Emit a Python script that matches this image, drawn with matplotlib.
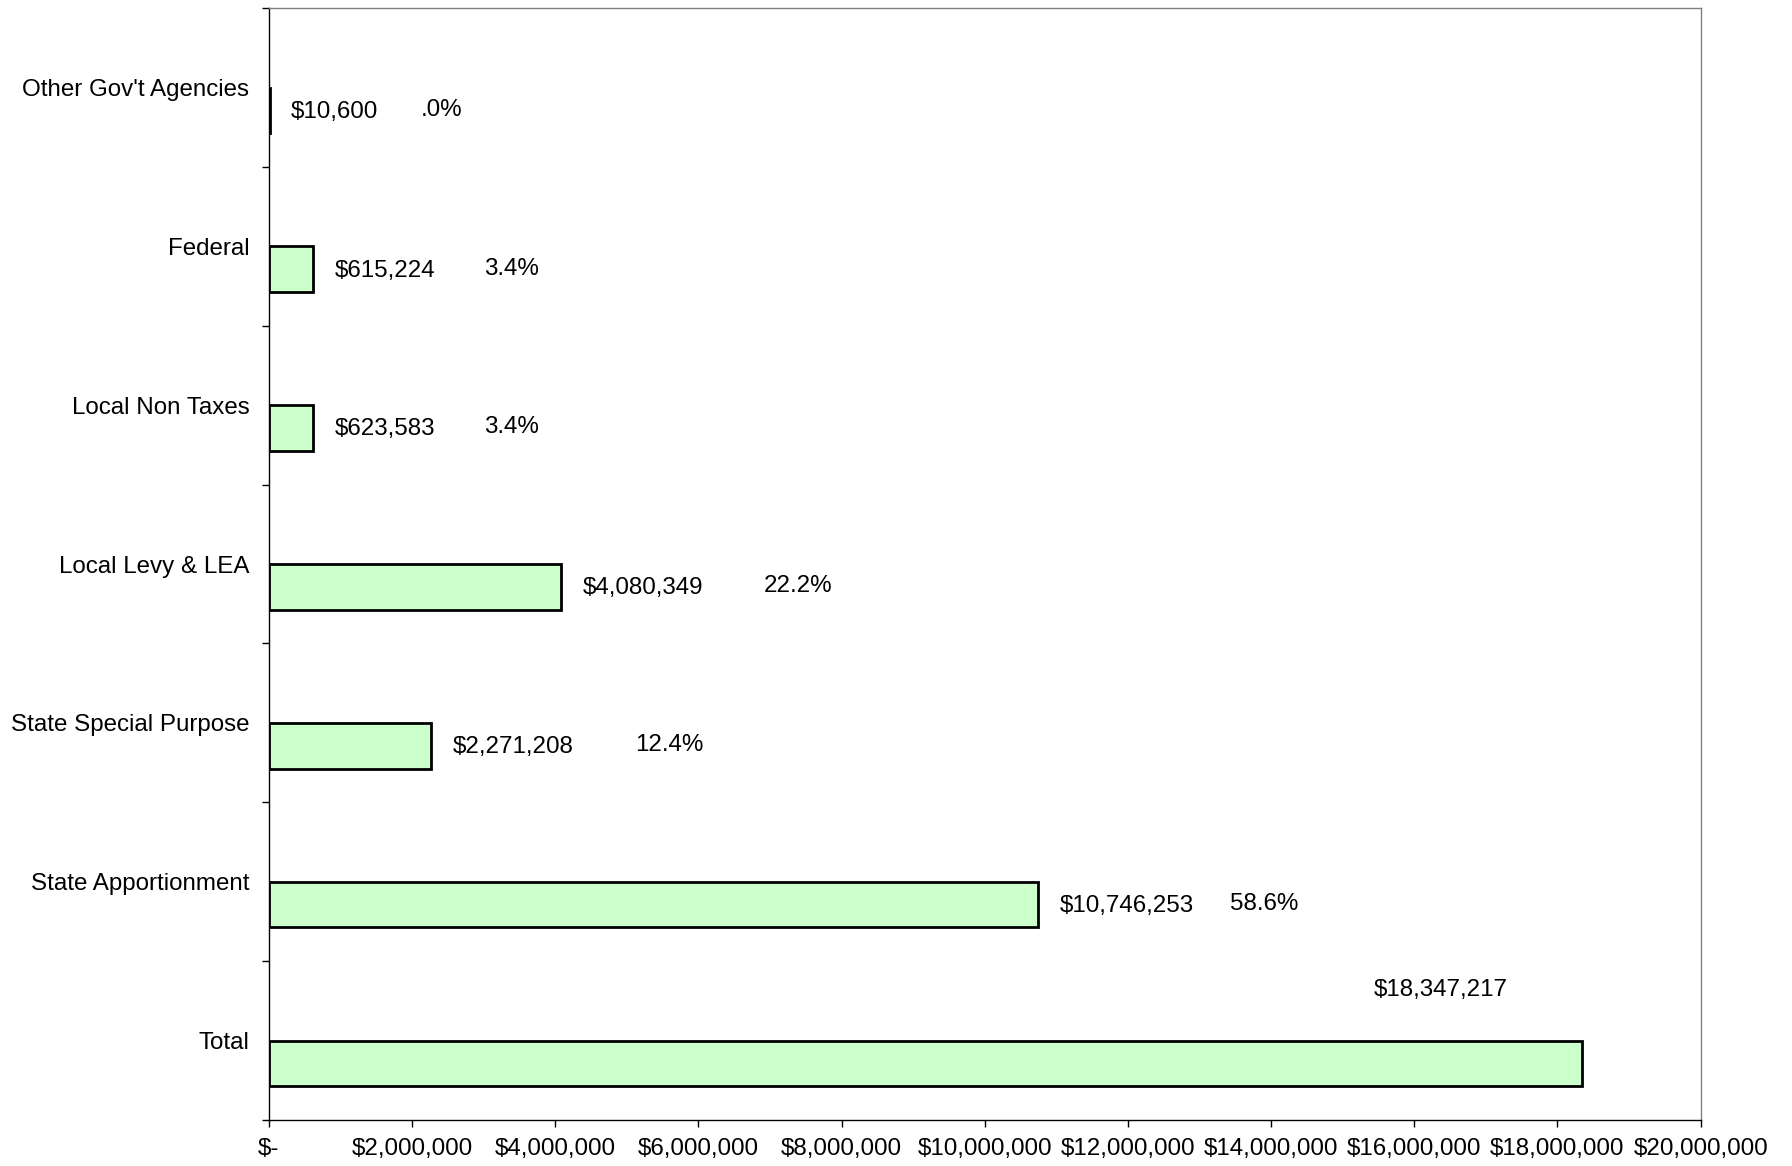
import matplotlib
matplotlib.use("Agg")
import matplotlib.pyplot as plt
import numpy as np

plt.rcParams['font.family'] = ['Liberation Sans', 'DejaVu Sans']

# dados (de baixo para cima)
categorias = ["Total", "State Apportionment", "State Special Purpose",
              "Local Levy & LEA", "Local Non Taxes", "Federal",
              "Other Gov't Agencies"]
valores = [18347217, 10746253, 2271208, 4080349, 623583, 615224, 10600]
percentuais = ["", "58.6%", "12.4%", "22.2%", "3.4%", "3.4%", ".0%"]

ticks_x = [0, 2000000, 4000000, 6000000, 8000000, 10000000,
           12000000, 14000000, 16000000, 18000000, 20000000]

# deslocamento (pt) do rotulo de percentual a partir do fim da barra
desloc_pct = [0, 138, 147, 146, 123, 123, 109]

fig = plt.figure(figsize=(17.92, 11.66), dpi=100)
ax = fig.add_axes([0.150, 0.0395, 0.799, 0.9535])

y = np.arange(len(categorias))
altura = 0.288
ax.barh(y - altura / 2, valores, height=altura, color="#CCFFCC",
        edgecolor="black", linewidth=2.0, zorder=3)

fs = 17.4
for i, v in enumerate(valores):
    txt = "${:,}".format(v)
    if i == 0:
        ax.annotate(txt, xy=(v, y[i] - altura / 2), xytext=(-102, 53),
                    textcoords="offset points", ha="center", va="center",
                    fontsize=fs)
        continue
    ax.annotate(txt, xy=(v, y[i] - altura / 2), xytext=(15.6, -1),
                textcoords="offset points", ha="left", va="center",
                fontsize=fs)
    ax.annotate(percentuais[i], xy=(v, y[i] - altura / 2),
                xytext=(desloc_pct[i], 0.5), textcoords="offset points",
                ha="left", va="center", fontsize=fs)

ax.set_xlim(0, 20000000)
ax.set_ylim(-0.5, len(categorias) - 0.5)

ax.set_xticks(ticks_x)
ax.set_xticklabels(["$-"] + ["${:,}".format(t) for t in ticks_x[1:]],
                   fontsize=fs)
ax.tick_params(axis="x", direction="out", length=5, width=1, pad=8)

ax.set_yticks(y)
ax.set_yticklabels(categorias, fontsize=fs)
ax.set_yticks(np.arange(-0.5, len(categorias), 1), minor=True)
ax.tick_params(axis="y", which="major", length=0, pad=14)
ax.tick_params(axis="y", which="minor", direction="out", length=5, width=1)

ax.spines["left"].set_color("black")
ax.spines["bottom"].set_color("black")
ax.spines["top"].set_color("#808080")
ax.spines["right"].set_color("#808080")
for s in ax.spines.values():
    s.set_linewidth(1)

plt.savefig("out.png", dpi=100)
